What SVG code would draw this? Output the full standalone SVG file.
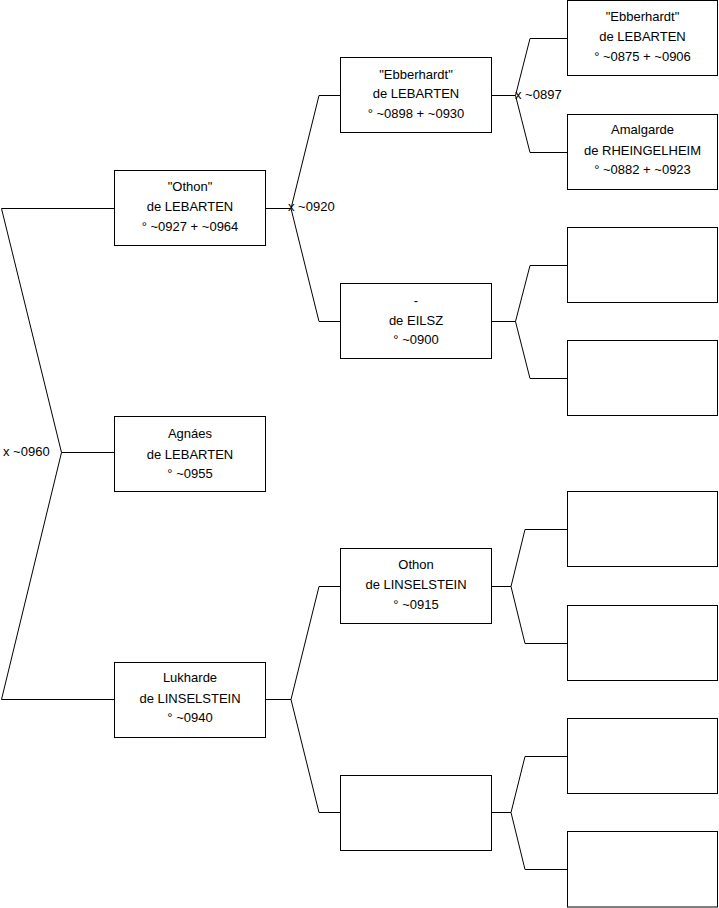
<svg xmlns="http://www.w3.org/2000/svg" width="719" height="908" viewBox="0 0 719 908">
<style>
.box{fill:#fff;stroke:#000;stroke-width:1}
.ln{fill:none;stroke:#000;stroke-width:1}
text{font-family:"Liberation Sans",Arial,sans-serif;font-size:13px;fill:#000}
.c{text-anchor:middle}
</style>
<rect width="719" height="908" fill="#fff"/>
<g id="connectors">
<polyline class="ln" points="114.5,208.5 1.5,208.5 61.5,452.5 1.5,699.5 114.5,699.5"/>
<polyline class="ln" points="61.5,452.5 114.5,452.5"/>
<polyline class="ln" points="265.5,208.5 291,208.5"/>
<polyline class="ln" points="340.5,95.5 319,95.5 291,208.5 319,321.5 340.5,321.5"/>
<polyline class="ln" points="491.5,95.5 515.5,95.5"/>
<polyline class="ln" points="567.5,38.5 530,38.5 515.5,95.5 530,152.5 567.5,152.5"/>
<polyline class="ln" points="491.5,321.5 515.5,321.5"/>
<polyline class="ln" points="567.5,265.5 530,265.5 515.5,321.5 530,378.5 567.5,378.5"/>
<polyline class="ln" points="265.5,699.5 291,699.5"/>
<polyline class="ln" points="340.5,586.5 319,586.5 291,699.5 319,812.5 340.5,812.5"/>
<polyline class="ln" points="491.5,586.5 511,586.5"/>
<polyline class="ln" points="567.5,529.5 525,529.5 511,586.5 525,643.5 567.5,643.5"/>
<polyline class="ln" points="491.5,812.5 511,812.5"/>
<polyline class="ln" points="567.5,756.5 525,756.5 511,812.5 525,869.5 567.5,869.5"/>
<text x="3" y="456">x ~0960</text>
<text x="288" y="211">x ~0920</text>
<text x="515" y="99">x ~0897</text>
</g>
<g id="othon-lebarten">
<rect class="box" x="114.5" y="170.5" width="151" height="75"/>
<text class="c" x="190" y="191">"Othon"</text>
<text class="c" x="190" y="211">de LEBARTEN</text>
<text class="c" x="190" y="231">° ~0927 + ~0964</text>
</g>
<g id="agnaes-lebarten">
<rect class="box" x="114.5" y="416.5" width="151" height="75"/>
<text class="c" x="190" y="438">Agnáes</text>
<text class="c" x="190" y="459">de LEBARTEN</text>
<text class="c" x="190" y="478">° ~0955</text>
</g>
<g id="lukharde-linselstein">
<rect class="box" x="114.5" y="662.5" width="151" height="75"/>
<text class="c" x="190" y="682">Lukharde</text>
<text class="c" x="190" y="703">de LINSELSTEIN</text>
<text class="c" x="190" y="722">° ~0940</text>
</g>
<g id="ebberhardt-lebarten-0898">
<rect class="box" x="340.5" y="57.5" width="151" height="75"/>
<text class="c" x="416" y="79">"Ebberhardt"</text>
<text class="c" x="416" y="98">de LEBARTEN</text>
<text class="c" x="416" y="118">° ~0898 + ~0930</text>
</g>
<g id="eilsz">
<rect class="box" x="340.5" y="283.5" width="151" height="75"/>
<text class="c" x="416" y="305">-</text>
<text class="c" x="416" y="325">de EILSZ</text>
<text class="c" x="416" y="344">° ~0900</text>
</g>
<g id="othon-linselstein">
<rect class="box" x="340.5" y="548.5" width="151" height="75"/>
<text class="c" x="416" y="569">Othon</text>
<text class="c" x="416" y="589">de LINSELSTEIN</text>
<text class="c" x="416" y="609">° ~0915</text>
</g>
<g id="unknown-l2">
<rect class="box" x="340.5" y="775.5" width="151" height="75"/>
</g>
<g id="ebberhardt-lebarten-0875">
<rect class="box" x="567.5" y="0.5" width="150" height="75"/>
<text class="c" x="642.5" y="21">"Ebberhardt"</text>
<text class="c" x="642.5" y="41">de LEBARTEN</text>
<text class="c" x="642.5" y="61">° ~0875 + ~0906</text>
</g>
<g id="amalgarde-rheingelheim">
<rect class="box" x="567.5" y="114.5" width="150" height="75"/>
<text class="c" x="642.5" y="134">Amalgarde</text>
<text class="c" x="642.5" y="155">de RHEINGELHEIM</text>
<text class="c" x="642.5" y="174">° ~0882 + ~0923</text>
</g>
<g id="unknown-l3-3"><rect class="box" x="567.5" y="227.5" width="150" height="75"/></g>
<g id="unknown-l3-4"><rect class="box" x="567.5" y="340.5" width="150" height="75"/></g>
<g id="unknown-l3-5"><rect class="box" x="567.5" y="491.5" width="150" height="75"/></g>
<g id="unknown-l3-6"><rect class="box" x="567.5" y="605.5" width="150" height="75"/></g>
<g id="unknown-l3-7"><rect class="box" x="567.5" y="718.5" width="150" height="75"/></g>
<g id="unknown-l3-8"><rect class="box" x="567.5" y="831.5" width="150" height="75.5"/></g>
</svg>
